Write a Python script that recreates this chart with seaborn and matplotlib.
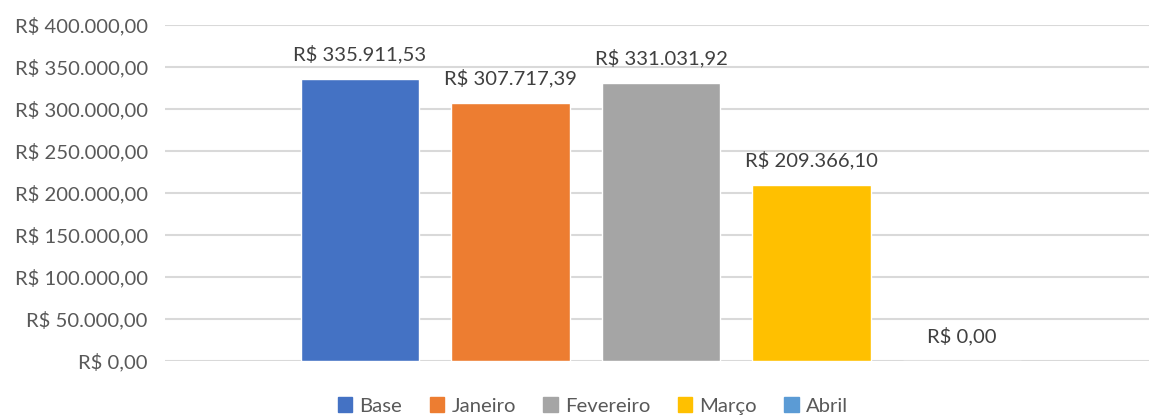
import pandas as pd
import matplotlib
matplotlib.use("Agg")
import matplotlib.pyplot as plt
import matplotlib.patches as mpatches
import seaborn as sns

# Dados do gráfico
meses = ['Base', 'Janeiro', 'Fevereiro', 'Março', 'Abril']
valores = [335911.53, 307717.39, 331031.92, 209366.10, 0.0]
cores = ['#4472C4', '#ED7D31', '#A5A5A5', '#FFC000', '#5B9BD5']
ticks_y = [0, 50000, 100000, 150000, 200000, 250000, 300000, 350000, 400000]


def formata_real(v):
    s = f"{v:,.2f}".replace(",", "X").replace(".", ",").replace("X", ".")
    return f"R$ {s}"


sns.set_theme(style="white")
plt.rcParams['font.family'] = ['Lato', 'DejaVu Sans']

df = pd.DataFrame({'Mês': meses, 'Valor': valores})

fig = plt.figure(figsize=(11.49, 4.18), dpi=100)
ax = fig.add_axes([165 / 1149, 1 - 361 / 418, 1 - 165 / 1149, (361 - 25) / 418])

sns.barplot(data=df, x='Mês', y='Valor', hue='Mês', palette=cores,
            width=0.79, legend=False, ax=ax, saturation=1)

ax.set_ylim(0, 400000)
ax.set_xlim(-1.296, 5.243)
ax.set_yticks(ticks_y)
ax.set_yticklabels([formata_real(t) for t in ticks_y], fontsize=14.6, color='#595959')
ax.tick_params(axis='y', length=0, pad=12.5)
ax.set_xticks([])
ax.set_xlabel('')
ax.set_ylabel('')
ax.yaxis.grid(True, color='#d9d9d9', linewidth=1.5)
ax.set_axisbelow(True)
for s in ax.spines.values():
    s.set_visible(False)

# Rótulos de dados
for i, v in enumerate(valores):
    ax.annotate(formata_real(v), (i, v), xytext=(0, 11), textcoords='offset points',
                ha='center', va='bottom', fontsize=14.6, color='#404040')

# Legenda
handles = [mpatches.Patch(color=c, label=m) for m, c in zip(meses, cores)]
leg = fig.legend(handles=handles, loc='center', bbox_to_anchor=(593 / 1149, 1 - 406 / 418),
                 ncol=5, frameon=False, fontsize=14.6, handlelength=0.72, handleheight=0.72,
                 handletextpad=0.35, columnspacing=1.35)
for t in leg.get_texts():
    t.set_color('#595959')

fig.savefig('out.png', dpi=100)
